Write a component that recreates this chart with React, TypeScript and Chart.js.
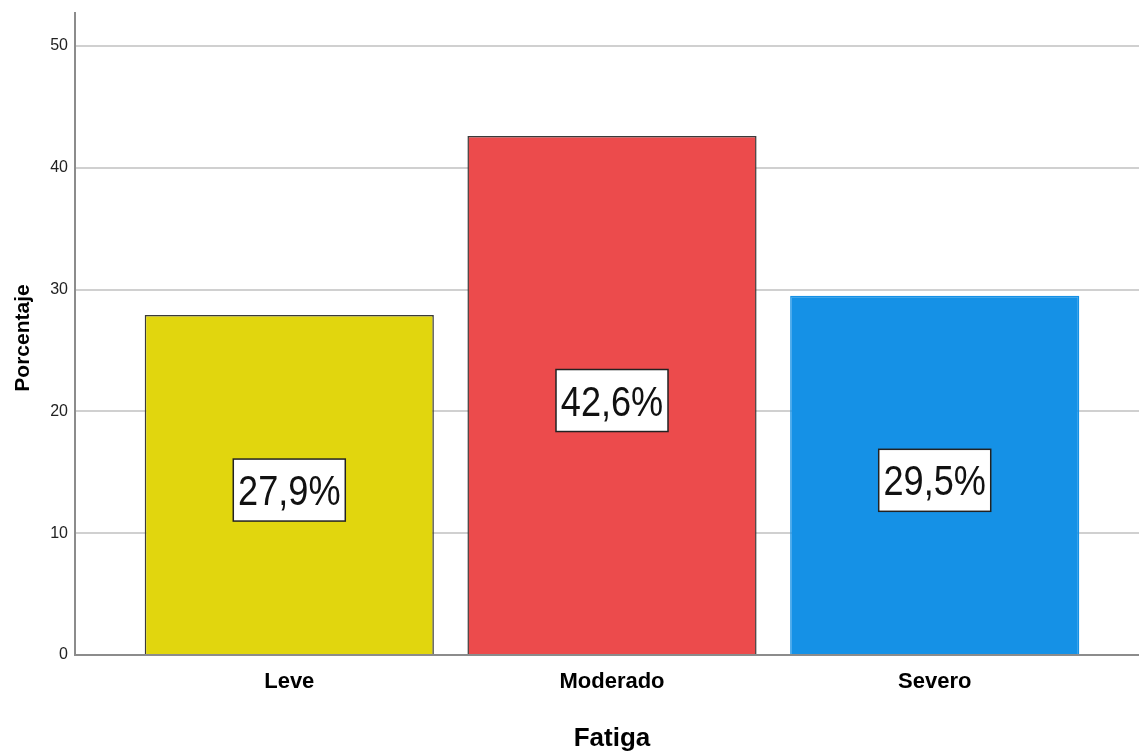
import React, { useEffect, useRef } from "react";
import { Chart, registerables } from "chart.js";

Chart.register(...registerables);

const categories = ["Leve", "Moderado", "Severo"];
const percentages = [27.9, 42.6, 29.5];
const valueLabels = ["27,9%", "42,6%", "29,5%"];
const barColors = ["#E1D60E", "#EC4B4C", "#1591E6"];
const barBorderColors = ["#3a3a3a", "#3a3a3a", "#1591E6"];
const yTicks = [0, 10, 20, 30, 40, 50];
const yTitle = "Porcentaje";
const xTitle = "Fatiga";

const FONT = "'Liberation Sans', Arial, sans-serif";

const labelPlugin = {
  id: "valueBoxes",
  afterDatasetsDraw(chart: any) {
    const ctx = chart.ctx;
    const meta = chart.getDatasetMeta(0);
    meta.data.forEach((bar: any, i: number) => {
      const cx = bar.x;
      const cy = (bar.y + bar.base) / 2 + 5.5;
      const w = 112;
      const h = 62;
      ctx.save();
      ctx.fillStyle = "#ffffff";
      ctx.fillRect(cx - w / 2, cy - h / 2, w, h);
      ctx.strokeStyle = "#222222";
      ctx.lineWidth = 1.5;
      ctx.strokeRect(cx - w / 2, cy - h / 2, w, h);
      ctx.translate(cx, cy);
      ctx.scale(0.86, 1);
      ctx.fillStyle = "#111111";
      ctx.font = `42px ${FONT}`;
      ctx.textAlign = "center";
      ctx.textBaseline = "alphabetic";
      ctx.fillText(valueLabels[i], 0, 15);
      ctx.restore();
    });
  },
};

const titlePlugin = {
  id: "axisTitles",
  afterDraw(chart: any) {
    const ctx = chart.ctx;
    ctx.save();
    ctx.fillStyle = "#000000";
    ctx.font = `bold 21px ${FONT}`;
    ctx.textAlign = "center";
    ctx.textBaseline = "alphabetic";
    ctx.translate(28.5, 338);
    ctx.rotate(-Math.PI / 2);
    ctx.fillText(yTitle, 0, 0);
    ctx.restore();

    ctx.save();
    ctx.fillStyle = "#000000";
    ctx.font = `bold 26px ${FONT}`;
    ctx.textAlign = "center";
    ctx.textBaseline = "alphabetic";
    const xs = chart.scales.x;
    ctx.fillText(xTitle, xs.getPixelForValue(1), 746);
    ctx.restore();
  },
};

export default function App() {
  const ref = useRef<HTMLCanvasElement>(null);
  useEffect(() => {
    if (!ref.current) return;
    const chart = new Chart(ref.current, {
      type: "bar",
      data: {
        datasets: [
          {
            data: percentages.map((v, i) => ({ x: i, y: v })),
            backgroundColor: barColors,
            borderColor: barBorderColors,
            borderWidth: 1.5,
            borderSkipped: "bottom",
            barPercentage: 0.896,
            categoryPercentage: 1,
          },
        ],
      },
      options: {
        responsive: false,
        animation: false,
        layout: { padding: { top: 13, right: 0, left: 0, bottom: 0 } },
        plugins: { legend: { display: false }, tooltip: { enabled: false } },
        scales: {
          x: {
            type: "linear",
            offset: false,
            min: -0.664,
            max: 2.633,
            afterBuildTicks: (s: any) => {
              s.ticks = categories.map((_, i) => ({ value: i }));
            },
            afterFit: (s: any) => {
              s.height = 98;
              s.paddingLeft = 0;
              s.paddingRight = 0;
            },
            grid: { display: false, drawTicks: false, offset: false },
            border: { display: true, color: "#8c8c8c", width: 2 },
            ticks: {
              padding: 14,
              color: "#000000",
              font: { family: FONT, size: 22, weight: "bold" },
              callback: (v: any) => categories[v] ?? "",
            },
          },
          y: {
            min: 0,
            max: 52.7,
            afterBuildTicks: (s: any) => {
              s.ticks = yTicks.map((v) => ({ value: v }));
            },
            afterFit: (s: any) => {
              s.width = 75;
              s.paddingTop = 0;
              s.paddingBottom = 0;
            },
            grid: { color: "#d0d0d0", lineWidth: 2, drawTicks: false },
            border: { display: true, color: "#8c8c8c", width: 2 },
            ticks: {
              padding: 7,
              color: "#222222",
              font: { family: FONT, size: 16 },
            },
          },
        },
      },
      plugins: [labelPlugin, titlePlugin],
    } as any);
    return () => chart.destroy();
  }, []);
  return (
    <div style={{ position: "fixed", left: 0, top: 0, width: 1139, height: 753, background: "#fff" }}>
      <canvas ref={ref} width={1139} height={753} style={{ display: "block" }} />
    </div>
  );
}
